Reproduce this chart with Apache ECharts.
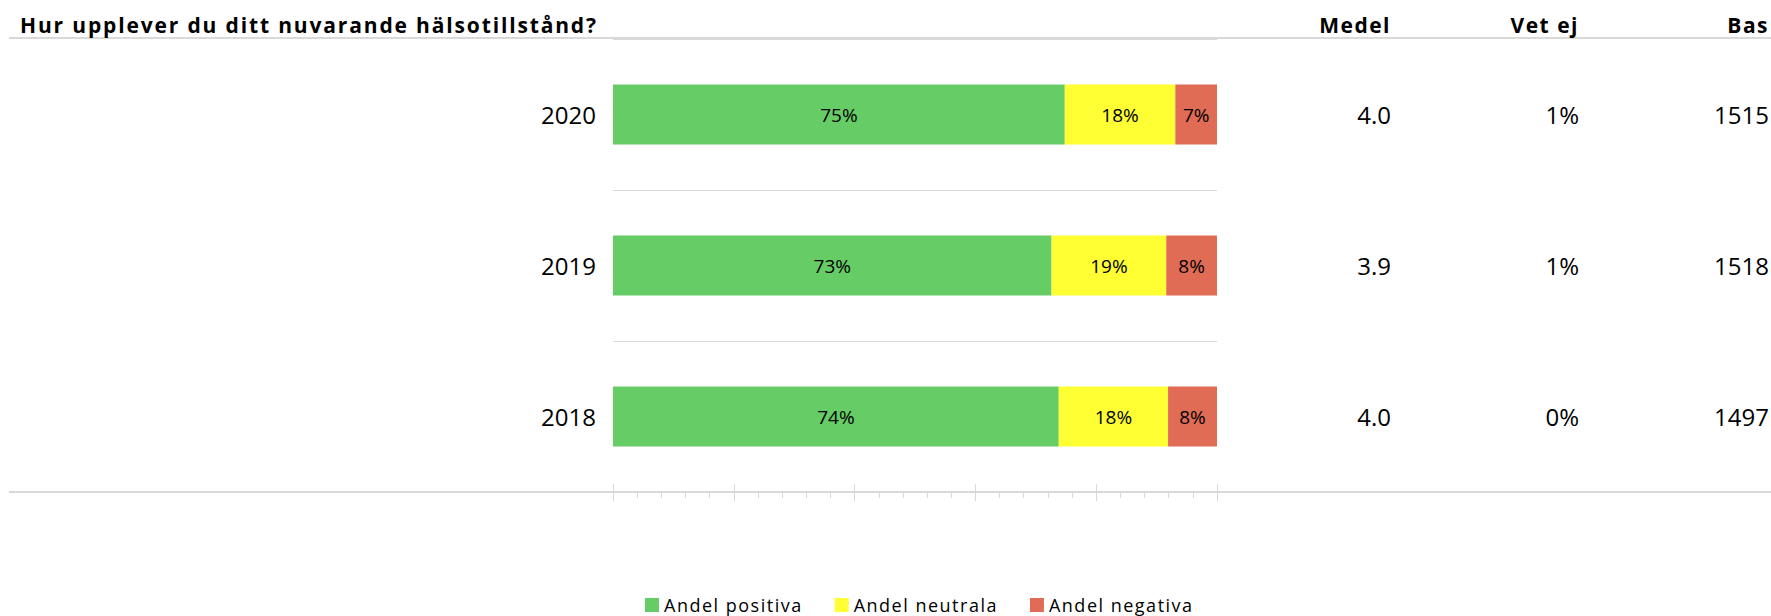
<!DOCTYPE html>
<html><head><meta charset="utf-8">
<script src="https://cdn.jsdelivr.net/npm/echarts@6/dist/echarts.min.js"></script>
<style>html,body{margin:0;padding:0;background:#fff}#c{width:1771px;height:616px}</style>
</head><body><div id="c"></div>
<script>
// ---- data ----
const categories = ['2020', '2019', '2018'];
const seriesNames = ['Andel positiva', 'Andel neutrala', 'Andel negativa'];
const positiva = [74.8, 72.6, 73.8];
const neutrala = [18.3, 19.0, 18.1];
const negativa = [6.9, 8.4, 8.1];
const medel = ['4.0', '3.9', '4.0'];
const vetEj = ['1%', '1%', '0%'];
const bas = ['1515', '1518', '1497'];
const headers = ['Medel', 'Vet ej', 'Bas'];
const titleText = 'Hur upplever du ditt nuvarande hälsotillstånd?';

// ---- style ----
const FONT = 'Open Sans';
const colors = ['#66cc66', '#ffff33', '#e06c55'];
const gridLeft = 613, gridRight = 553, gridTop = 39, gridBottom = 124;
const W = 1771;
const colRight = [1391, 1579, 1769];
const lineColor = '#d9d9d9';
const titleSpacing = 1.85, headerSpacing = 1.5, legendSpacing = 1.5;

const chart = echarts.init(document.getElementById('c'), null, {renderer: 'svg'});

const hdrStyle = {fontSize: 21, fontWeight: 'bold', fontFamily: FONT, color: '#000'};
const titles = [{text: titleText, left: 20, top: 14, padding: 0, textStyle: hdrStyle}];
headers.forEach((h, i) => titles.push({
  text: h, right: W - colRight[i] + h.length * headerSpacing, top: 14, padding: 0, textStyle: hdrStyle
}));

function colAxis(data, right) {
  return {
    type: 'category', data: data, inverse: true, position: 'left',
    offset: -(right - gridLeft),
    axisLine: {show: false}, axisTick: {show: false}, splitLine: {show: false},
    axisLabel: {margin: 0, fontSize: 24, fontFamily: FONT, color: '#000'}
  };
}

const seriesData = [positiva, neutrala, negativa];
const series = seriesData.map((d, i) => ({
  name: seriesNames[i], type: 'bar', stack: 'total', xAxisIndex: 0, yAxisIndex: 0,
  barWidth: 60, data: d,
  itemStyle: {color: colors[i]},
  label: {show: true, position: 'inside', fontSize: 19, fontFamily: FONT, color: '#000',
    formatter: p => Math.round(p.value) + '%'}
}));

const xBase = {type: 'value', min: 0, max: 100, interval: 20, position: 'bottom', offset: 0,
  axisLabel: {show: false}, splitLine: {show: false}};

chart.setOption({
  animation: false,
  title: titles,
  legend: {
    data: seriesNames, top: 596, left: 645, padding: 0, icon: 'rect', itemWidth: 14, itemHeight: 14,
    itemGap: 53, textStyle: {fontSize: 18, fontFamily: FONT, color: '#000'}
  },
  grid: {left: gridLeft, right: gridRight, top: gridTop, bottom: gridBottom},
  xAxis: [
    Object.assign({}, xBase, {
      axisLine: {show: true, lineStyle: {color: lineColor, width: 2}},
      axisTick: {show: true, length: 9, lineStyle: {color: lineColor, width: 1}},
      minorTick: {show: true, splitNumber: 5, length: 6, lineStyle: {color: lineColor, width: 1}}
    }),
    Object.assign({}, xBase, {
      axisLine: {show: false},
      axisTick: {show: true, inside: true, length: 8, lineStyle: {color: lineColor, width: 1}}
    })
  ],
  yAxis: [
    {
      type: 'category', data: categories, inverse: true,
      axisLine: {show: false}, axisTick: {show: false},
      splitLine: {show: true, lineStyle: {color: lineColor, width: 1}},
      axisLabel: {margin: 17, fontSize: 24, fontFamily: FONT, color: '#000'}
    },
    colAxis(medel, colRight[0]),
    colAxis(vetEj, colRight[1]),
    colAxis(bas, colRight[2])
  ],
  graphic: [
    {type: 'line', shape: {x1: 9, y1: 38, x2: W, y2: 38}, style: {stroke: lineColor, lineWidth: 2}, silent: true},
    {type: 'line', shape: {x1: 9, y1: 492, x2: W, y2: 492}, style: {stroke: lineColor, lineWidth: 2}, silent: true, z: -1}
  ],
  series: series
});

// letter spacing as in the reference (SVG text)
function applySpacing() {
  document.querySelectorAll('#c svg text').forEach(t => {
    const s = t.textContent;
    if (s === titleText) t.style.letterSpacing = titleSpacing + 'px';
    else if (headers.includes(s)) t.style.letterSpacing = headerSpacing + 'px';
    else if (seriesNames.includes(s)) t.style.letterSpacing = legendSpacing + 'px';
  });
}
chart.on('finished', applySpacing);
setTimeout(applySpacing, 50);
setTimeout(applySpacing, 300);
</script></body></html>
